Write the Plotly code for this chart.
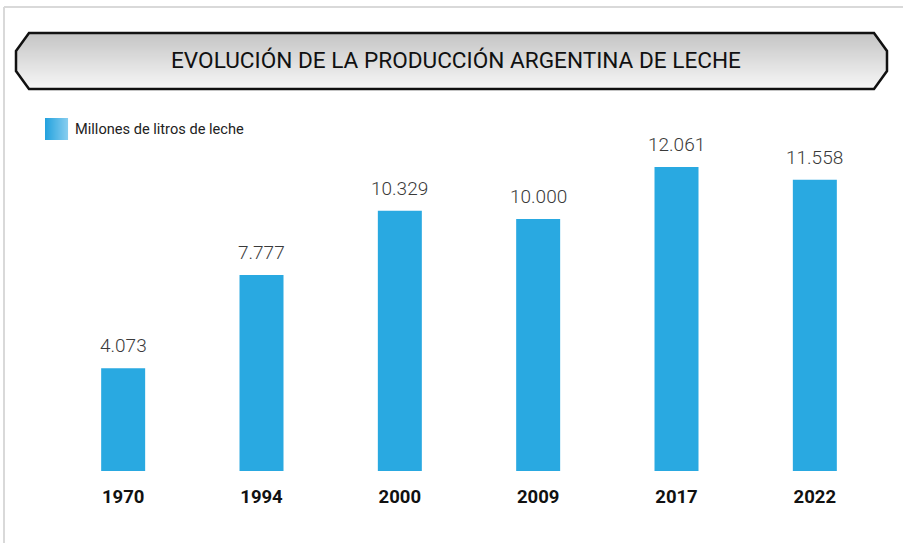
import plotly.graph_objects as go

years = ["1970", "1994", "2000", "2009", "2017", "2022"]
values = [4073, 7777, 10329, 10000, 12061, 11558]
title_text = "EVOLUCIÓN DE LA PRODUCCIÓN ARGENTINA DE LECHE"
legend_text = "Millones de litros de leche"

W, H = 903, 543
L, R, T, B = 54, 19, 110, 72
PW, PH = W - L - R, H - T - B
FONT = "Roboto, Liberation Sans, sans-serif"
BAR = "#29a9e1"


def px(x):
    return (x - L) / PW


def py(y):
    return (H - B - y) / PH


def lerp_color(c0, c1, t):
    a = [int(c0[i:i + 2], 16) for i in (1, 3, 5)]
    b = [int(c1[i:i + 2], 16) for i in (1, 3, 5)]
    return "rgb(%d,%d,%d)" % tuple(round(a[k] + (b[k] - a[k]) * t) for k in range(3))


fig = go.Figure()
fig.add_trace(go.Bar(
    x=years, y=values, marker=dict(color=BAR, line=dict(width=0)),
    width=0.318, showlegend=False, hoverinfo="x+y",
))

shapes = []
# outer frame lines
shapes.append(dict(type="line", xref="paper", yref="paper", x0=px(4), x1=px(903),
                   y0=py(7), y1=py(7), line=dict(color="#d9d9d9", width=2)))
shapes.append(dict(type="line", xref="paper", yref="paper", x0=px(4), x1=px(4),
                   y0=py(7), y1=py(543), line=dict(color="#d9d9d9", width=2)))

# banner gradient stripes (hexagon)
top, bot, xl, xr, cut, d = 33, 89, 16, 887, 13, 18
for yy in range(top, bot):
    yc = yy + 0.5
    if yc < top + d:
        off = cut * (1 - (yc - top) / d)
    elif yc > bot - d:
        off = cut * (1 - (bot - yc) / d)
    else:
        off = 0
    t = (yc - top) / (bot - top)
    col = lerp_color("#c4c4c4", "#f7f7f7", t)
    shapes.append(dict(type="rect", xref="paper", yref="paper",
                       x0=px(xl + off), x1=px(xr - off), y0=py(yy), y1=py(yy + 1.05),
                       fillcolor=col, line=dict(width=0)))
hex_pts = [(xl, top + d), (xl + cut, top), (xr - cut, top), (xr, top + d),
           (xr, bot - d), (xr - cut, bot), (xl + cut, bot), (xl, bot - d)]
path = "M " + " L ".join("%.5f,%.5f" % (px(a), py(b)) for a, b in hex_pts) + " Z"
shapes.append(dict(type="path", xref="paper", yref="paper", path=path,
                   line=dict(color="#111111", width=2.5)))

# legend swatch gradient
for i in range(23):
    shapes.append(dict(type="rect", xref="paper", yref="paper",
                       x0=px(45 + i), x1=px(46.05 + i), y0=py(140), y1=py(118),
                       fillcolor=lerp_color("#24a2de", "#86cdef", i / 22),
                       line=dict(width=0)))

annotations = []
for i, v in enumerate(values):
    annotations.append(dict(
        x=i, y=v, xref="x", yref="y", yanchor="bottom", yshift=9,
        text=f"{v:,}".replace(",", "."), showarrow=False,
        font=dict(family=FONT, size=19, color="#3a3a3a", weight=300),
    ))
annotations.append(dict(
    x=px(456), y=py(61), xref="paper", yref="paper", text=title_text, showarrow=False,
    xanchor="center", yanchor="middle",
    font=dict(family=FONT, size=22.6, color="#111111"),
))
annotations.append(dict(
    x=px(73), y=py(129), xref="paper", yref="paper", text=legend_text, showarrow=False,
    xanchor="left", yanchor="middle",
    font=dict(family=FONT, size=14.6, color="#222222"),
))

fig.update_layout(
    width=W, height=H, margin=dict(l=L, r=R, t=T, b=B, pad=0, autoexpand=False),
    paper_bgcolor="white", plot_bgcolor="white",
    showlegend=False, annotations=annotations, shapes=shapes,
    xaxis=dict(type="category", range=[-0.5, 5.5], showgrid=False, zeroline=False,
               showline=False, ticks="", ticklabelstandoff=12,
               tickfont=dict(family=FONT, size=18.5, color="#111111", weight="bold")),
    yaxis=dict(range=[0, PH / 0.0252], showgrid=False, zeroline=False,
               showticklabels=False, showline=False),
)

fig.write_html("out.html", config={"displayModeBar": False},
               post_script="document.body.style.margin='0';")
